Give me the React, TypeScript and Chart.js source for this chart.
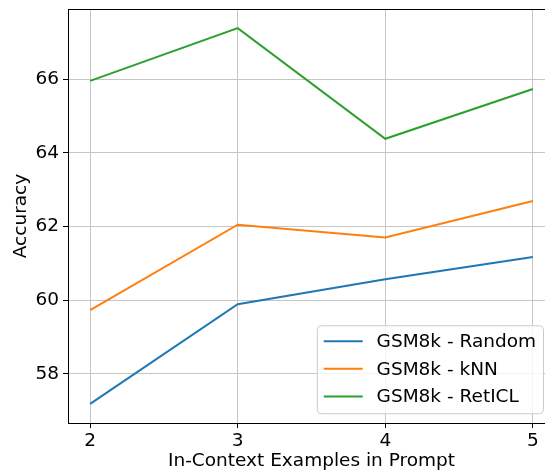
import { useEffect, useRef } from "react";
import { Chart, registerables } from "chart.js";

Chart.register(...registerables);

const examples = [2, 3, 4, 5];
const randomAcc = [57.19, 59.89, 60.57, 61.17];
const knnAcc = [59.73, 62.05, 61.7, 62.69];
const retiAcc = [65.95, 67.38, 64.38, 65.73];
const seriesLabels = ["GSM8k - Random", "GSM8k - kNN", "GSM8k - RetICL"];
const seriesColors = ["#1f77b4", "#ff7f0e", "#2ca02c"];
const xTicks = [2, 3, 4, 5];
const yTicks = [58, 60, 62, 64, 66];

const FS = 18.5;
const FAMILY = '"DejaVu Sans", sans-serif';

const framePlugin = {
  id: "frameAndLegend",
  afterDatasetsDraw(chart: any) {
    const { ctx, chartArea } = chart;
    ctx.save();
    ctx.strokeStyle = "#000";
    ctx.lineWidth = 1;
    ctx.beginPath();
    ctx.moveTo(chartArea.left, chartArea.top + 0.5);
    ctx.lineTo(chartArea.right, chartArea.top + 0.5);
    ctx.stroke();
    ctx.beginPath();
    ctx.moveTo(chartArea.right - 0.5, chartArea.top);
    ctx.lineTo(chartArea.right - 0.5, chartArea.bottom);
    ctx.stroke();

    ctx.font = `${FS}px ${FAMILY}`;
    const datasets = chart.data.datasets;
    let maxW = 0;
    datasets.forEach((d: any) => {
      maxW = Math.max(maxW, ctx.measureText(d.label).width);
    });
    const pad = 0.4 * FS;
    const handle = 2 * FS;
    const gap = 0.8 * FS;
    const rowH = 1.49 * FS;
    const w = pad * 2 + handle + gap + maxW;
    const h = 88;
    const right = Math.min(chartArea.right - 0.5 * FS, 543.5);
    const bottom = chartArea.bottom - 0.5 * FS;
    const left = right - w;
    const top = bottom - h;
    const r = 4;
    ctx.beginPath();
    ctx.moveTo(left + r, top);
    ctx.lineTo(right - r, top);
    ctx.quadraticCurveTo(right, top, right, top + r);
    ctx.lineTo(right, bottom - r);
    ctx.quadraticCurveTo(right, bottom, right - r, bottom);
    ctx.lineTo(left + r, bottom);
    ctx.quadraticCurveTo(left, bottom, left, bottom - r);
    ctx.lineTo(left, top + r);
    ctx.quadraticCurveTo(left, top, left + r, top);
    ctx.closePath();
    ctx.fillStyle = "rgba(255,255,255,0.8)";
    ctx.fill();
    ctx.strokeStyle = "#cccccc";
    ctx.lineWidth = 1;
    ctx.stroke();

    datasets.forEach((d: any, i: number) => {
      const cy = top + 15.5 + i * rowH;
      ctx.strokeStyle = d.borderColor;
      ctx.lineWidth = 2;
      ctx.beginPath();
      ctx.moveTo(left + pad - 1, cy);
      ctx.lineTo(left + pad - 1 + handle + 2, cy);
      ctx.stroke();
      ctx.fillStyle = "#000";
      ctx.textBaseline = "middle";
      ctx.textAlign = "left";
      ctx.fillText(d.label, left + pad + handle + gap, cy + 1);
    });
    ctx.restore();
  },
};

export default function App() {
  const ref = useRef<HTMLCanvasElement | null>(null);

  useEffect(() => {
    if (!ref.current) return;
    Chart.defaults.font.family = FAMILY;
    Chart.defaults.color = "#000";
    const series = [randomAcc, knnAcc, retiAcc];
    const chart = new Chart(ref.current, {
      type: "line",
      data: {
        datasets: series.map((vals, i) => ({
          label: seriesLabels[i],
          data: examples.map((x, j) => ({ x, y: vals[j] })),
          borderColor: seriesColors[i],
          backgroundColor: seriesColors[i],
          borderWidth: 2,
          pointRadius: 0,
          tension: 0,
          fill: false,
        })),
      },
      options: {
        responsive: false,
        animation: false,
        devicePixelRatio: 1,
        layout: { padding: { left: 0, top: 9, right: 5, bottom: 0 } },
        plugins: {
          legend: { display: false },
          tooltip: { enabled: false },
        },
        scales: {
          x: {
            type: "linear",
            min: 1.85,
            max: 5.15,
            afterBuildTicks: (s: any) => {
              s.ticks = xTicks.map((v) => ({ value: v }));
            },
            afterFit: (s: any) => {
              s.height = 49;
              s.paddingLeft = 0;
              s.paddingRight = 0;
            },
            grid: {
              color: "#c6c6c6",
              lineWidth: 1,
              tickColor: "#000",
              tickLength: 5,
              tickWidth: 1,
            },
            border: { display: true, color: "#000", width: 1 },
            ticks: {
              font: { size: FS },
              padding: 2,
              maxRotation: 0,
              callback: (v: any) => String(v),
            },
            title: {
              display: true,
              text: "In-Context Examples in Prompt",
              font: { size: FS },
              padding: { top: 0, bottom: 0 },
            },
          },
          y: {
            type: "linear",
            min: 56.67,
            max: 67.9,
            afterBuildTicks: (s: any) => {
              s.ticks = yTicks.map((v) => ({ value: v }));
            },
            afterFit: (s: any) => {
              s.width = 68;
              s.paddingTop = 0;
              s.paddingBottom = 0;
            },
            grid: {
              color: "#c6c6c6",
              lineWidth: 1,
              tickColor: "#000",
              tickLength: 5,
              tickWidth: 1,
            },
            border: { display: true, color: "#000", width: 1 },
            ticks: {
              font: { size: FS },
              padding: 4,
              callback: (v: any) => String(v),
            },
            title: {
              display: true,
              text: "Accuracy",
              font: { size: FS },
              padding: { top: 10, bottom: 0 },
            },
          },
        },
      },
      plugins: [framePlugin],
    });
    return () => chart.destroy();
  }, []);

  return (
    <div
      style={{
        position: "absolute",
        left: 0,
        top: 0,
        width: 545,
        height: 472,
        overflow: "hidden",
        background: "#fff",
      }}
    >
      <canvas ref={ref} width={560} height={472} style={{ width: 560, height: 472, display: "block" }} />
    </div>
  );
}
